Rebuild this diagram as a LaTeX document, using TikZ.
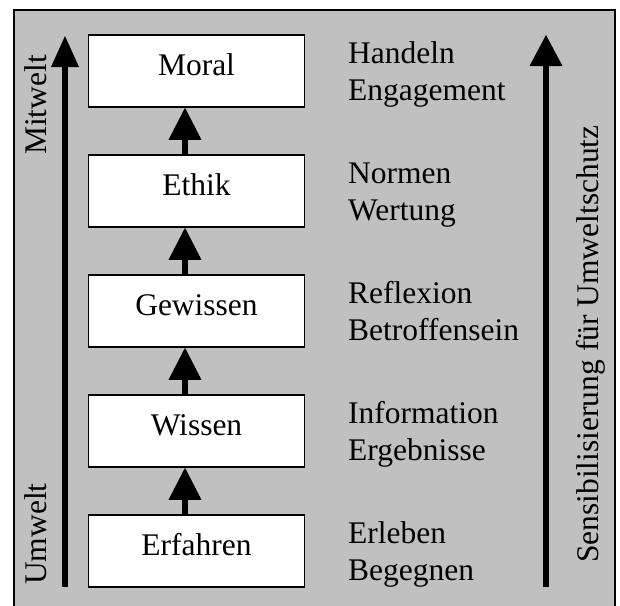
\documentclass[tikz,border=0pt]{standalone}
\usepackage{fontspec}
\setmainfont{Liberation Serif}
\usetikzlibrary{arrows.meta}
\definecolor{bggray}{RGB}{192,192,192}
\tikzset{
  stagebox/.style={draw=black, line width=1.6pt, fill=white, minimum width=216pt, minimum height=72pt, inner sep=0pt, text height=22pt, text depth=14pt},
  lbl/.style={anchor=base west, inner sep=0pt},
  sidelbl/.style={anchor=base west, inner sep=0pt, rotate=90},
  uparr/.style={line width=6pt, -{Triangle[length=32pt,width=33pt,line width=0pt]}},
  bigarr/.style={line width=6.5pt, -{Triangle[length=31pt,width=#1,line width=0pt]}},
}
\begin{document}
\begin{tikzpicture}[x=1pt, y=-1pt, font=\fontsize{31.5pt}{37pt}\selectfont]
\useasboundingbox (0,0) rectangle (620,605);
\fill[bggray] (14,10) rectangle (615,615);
\draw[line width=2pt] (14,615) -- (14,10) -- (615,10) -- (615,615);

\node[stagebox] (moral)    at (196.5,71)  {Moral};
\node[stagebox] (ethik)    at (196.5,191) {Ethik};
\node[stagebox] (gewissen) at (196.5,311) {Gewissen};
\node[stagebox] (wissen)   at (196.5,431) {Wissen};
\node[stagebox] (erfahren) at (196.5,551) {Erfahren};

\draw[uparr] ([xshift=-11.5pt]erfahren.north) -- ([xshift=-11.5pt]wissen.south);
\draw[uparr] ([xshift=-11.5pt]wissen.north) -- ([xshift=-11.5pt]gewissen.south);
\draw[uparr] ([xshift=-11.5pt]gewissen.north) -- ([xshift=-11.5pt]ethik.south);
\draw[uparr] ([xshift=-11.5pt]ethik.north) -- ([xshift=-11.5pt]moral.south);

\node[lbl] (t1a) at (348,63)  {Handeln};
\node[lbl] (t1b) at (348,100) {Engagement};
\node[lbl] (t2a) at (348,183) {Normen};
\node[lbl] (t2b) at (348,220) {Wertung};
\node[lbl] (t3a) at (348,303) {Reflexion};
\node[lbl] (t3b) at (348,340) {Betroffensein};
\node[lbl] (t4a) at (348,423) {Information};
\node[lbl] (t4b) at (348,460) {Ergebnisse};
\node[lbl] (t5a) at (348,543) {Erleben};
\node[lbl] (t5b) at (348,580) {Begegnen};

\coordinate (lbot) at (65,587);
\coordinate (ltop) at (65,36);
\draw[bigarr=28pt] (lbot) -- (ltop);
\coordinate (rbot) at (546,587);
\coordinate (rtop) at (546,35);
\draw[bigarr=33pt] (rbot) -- (rtop);

\node[sidelbl] (mitwelt) at (46,155) {Mitwelt};
\node[sidelbl] (umwelt)  at (46,585) {Umwelt};
\node[sidelbl] (sens)    at (598,563) {Sensibilisierung für Umweltschutz};
\end{tikzpicture}
\end{document}
